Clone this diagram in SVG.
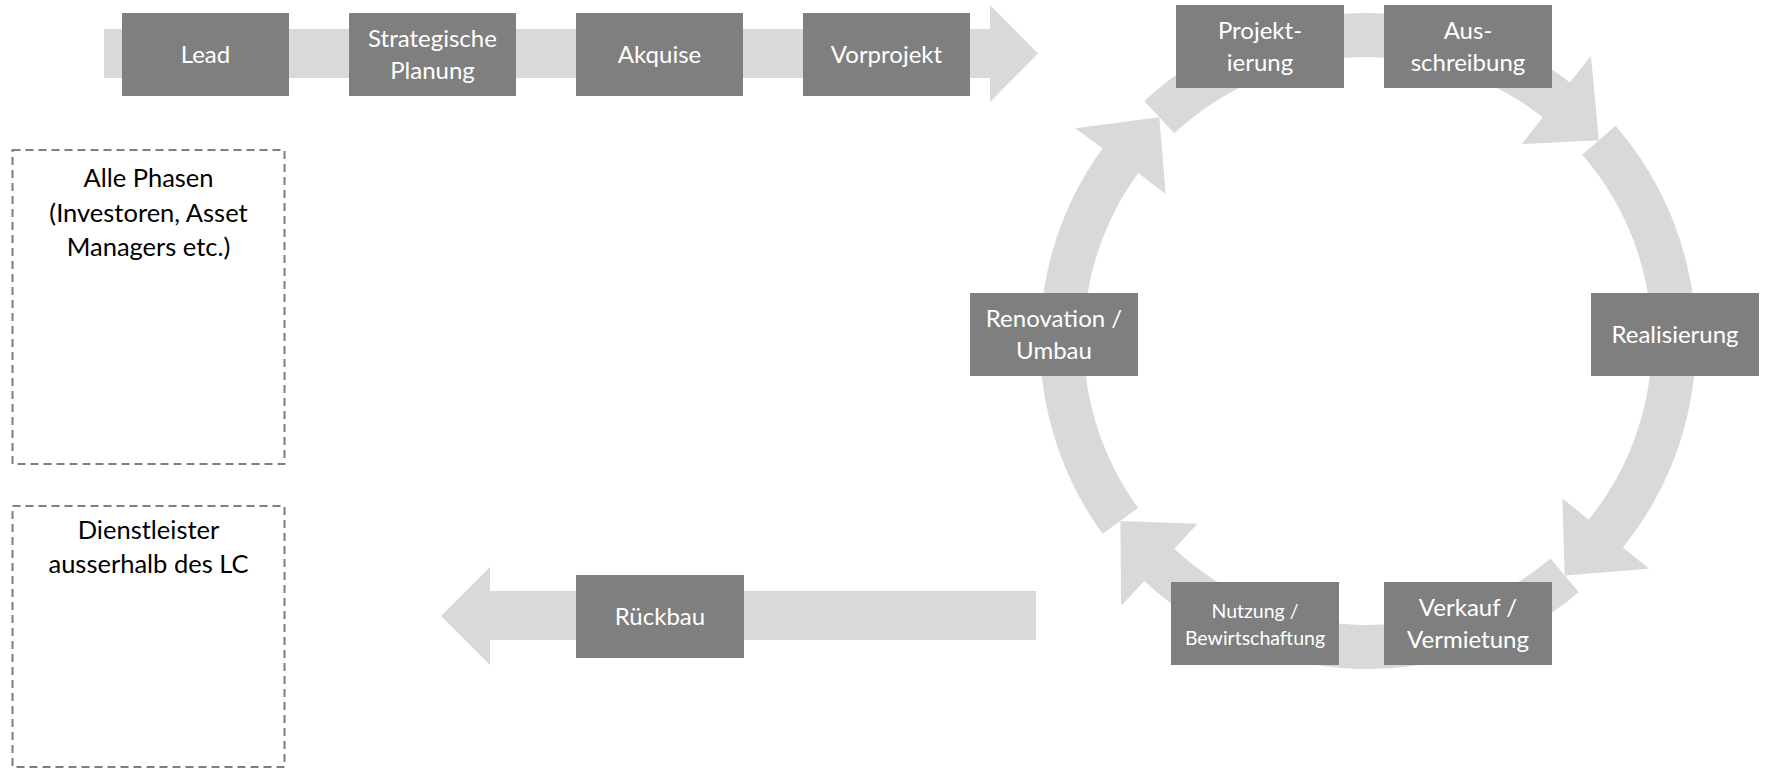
<svg xmlns="http://www.w3.org/2000/svg" width="1768" height="769" viewBox="0 0 1768 769">
<style>
.box{fill:#7F7F7F}
.bt{fill:#FFFFFF;font-family:Lato,"Open Sans",sans-serif;font-size:24px;text-anchor:middle}
.sm{font-size:19.5px}
.arr{fill:#D9D9D9}
.dash{fill:none;stroke:#7F7F7F;stroke-width:2;stroke-dasharray:8 5}
.dt{fill:#000000;font-family:Lato,"Open Sans",sans-serif;font-size:25.5px;text-anchor:middle}
</style>
<rect width="1768" height="769" fill="#FFFFFF"/>
<g id="connectors">
<path class="arr" d="M104,29 L990,29 L990,5 L1038,53.5 L990,102 L990,78 L104,78 Z"/>
<path class="arr" d="M1036,591 L490,591 L490,567 L441,616 L490,665 L490,640 L1036,640 Z"/>
<path class="arr" d="M1144.3,101.1 A328,328 0 0 1 1569.9,82.5 L1590.9,55.7 L1598.9,140.2 L1521.9,144.0 L1542.8,117.2 A284,284 0 0 0 1174.3,133.3 Z"/>
<path class="arr" d="M1615.5,125.8 A328,328 0 0 1 1622.9,547.4 L1649.3,568.8 L1564.7,575.4 L1562.3,498.3 L1588.7,519.7 A284,284 0 0 0 1582.3,154.7 Z"/>
<path class="arr" d="M1578.8,592.3 A328,328 0 0 1 1144.3,580.9 L1121.1,605.7 L1120.4,520.9 L1197.5,523.8 L1174.3,548.7 A284,284 0 0 0 1550.6,558.6 Z"/>
<path class="arr" d="M1102.6,533.8 A328,328 0 0 1 1102.6,148.2 L1075.1,128.2 L1159.3,117.2 L1165.7,194.1 L1138.2,173.1 A284,284 0 0 0 1138.2,507.9 Z"/>
</g>
<g id="lead"><rect class="box" x="122" y="13" width="167" height="83"/><text class="bt" x="205.5" y="63">Lead</text></g>
<g id="strategische-planung"><rect class="box" x="349" y="13" width="167" height="83"/><text class="bt" x="432.5" y="47">Strategische</text><text class="bt" x="432.5" y="79">Planung</text></g>
<g id="akquise"><rect class="box" x="576" y="13" width="167" height="83"/><text class="bt" x="659.5" y="63">Akquise</text></g>
<g id="vorprojekt"><rect class="box" x="803" y="13" width="167" height="83"/><text class="bt" x="886.5" y="63">Vorprojekt</text></g>
<g id="projektierung"><rect class="box" x="1176" y="5" width="168" height="83"/><text class="bt" x="1260" y="39">Projekt-</text><text class="bt" x="1260" y="71">ierung</text></g>
<g id="ausschreibung"><rect class="box" x="1384" y="5" width="168" height="83"/><text class="bt" x="1468" y="39">Aus-</text><text class="bt" x="1468" y="71">schreibung</text></g>
<g id="renovation-umbau"><rect class="box" x="970" y="293" width="168" height="83"/><text class="bt" x="1054" y="327">Renovation /</text><text class="bt" x="1054" y="359">Umbau</text></g>
<g id="realisierung"><rect class="box" x="1591" y="293" width="168" height="83"/><text class="bt" x="1675" y="343">Realisierung</text></g>
<g id="nutzung-bewirtschaftung"><rect class="box" x="1171" y="582" width="168" height="83"/><text class="bt sm" x="1255" y="618">Nutzung /</text><text class="bt sm" x="1255" y="645">Bewirtschaftung</text></g>
<g id="verkauf-vermietung"><rect class="box" x="1384" y="582" width="168" height="83"/><text class="bt" x="1468" y="616">Verkauf /</text><text class="bt" x="1468" y="648">Vermietung</text></g>
<g id="rueckbau"><rect class="box" x="576" y="575" width="168" height="83"/><text class="bt" x="660" y="625">Rückbau</text></g>
<g id="alle-phasen"><rect class="dash" x="12.5" y="150" width="272" height="314"/><text class="dt" x="148.5" y="187">Alle Phasen</text><text class="dt" x="148.5" y="222">(Investoren, Asset</text><text class="dt" x="148.5" y="256">Managers etc.)</text></g>
<g id="dienstleister"><rect class="dash" x="12.5" y="506" width="272" height="261"/><text class="dt" x="148.5" y="539">Dienstleister</text><text class="dt" x="148.5" y="573">ausserhalb des LC</text></g>
</svg>
